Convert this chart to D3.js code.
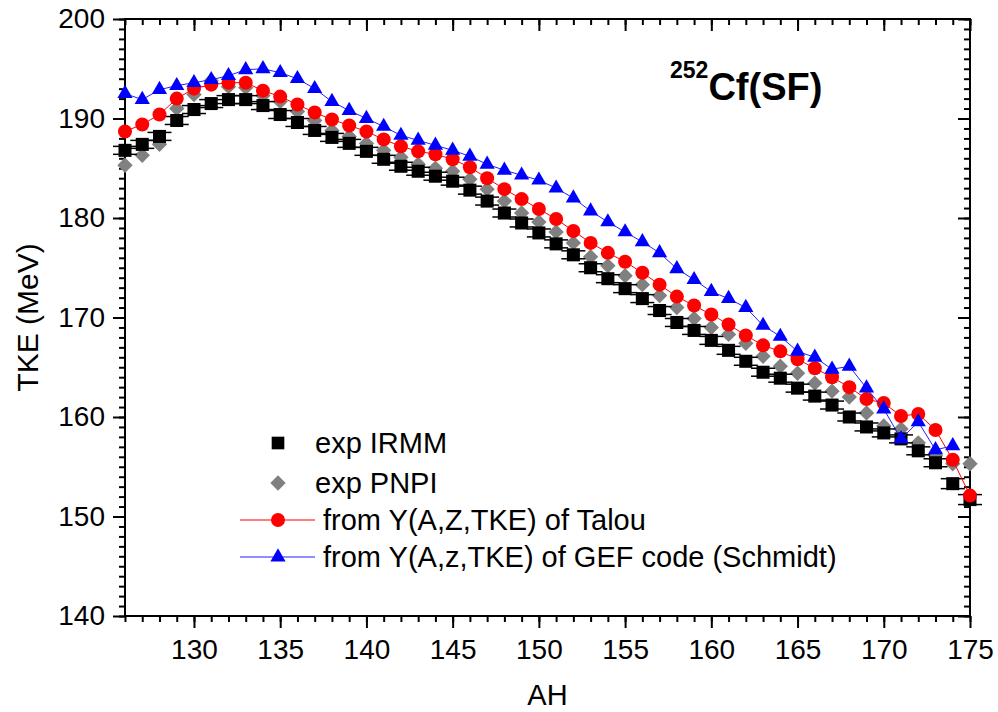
<!DOCTYPE html>
<html>
<head>
<meta charset="utf-8">
<script src="https://cdn.jsdelivr.net/npm/d3@7"></script>
<style>
  html, body { margin: 0; padding: 0; background: #fff; }
  svg { display: block; }
  text { font-family: "Liberation Sans", Arial, sans-serif; fill: #000; }
</style>
</head>
<body>
<svg id="chart" width="998" height="712"></svg>
<script>
// Fragment mass numbers (heavy fragment)
const massA = d3.range(126, 176);

// exp IRMM: TKE (MeV) and its uncertainty
const irmmTKE = [186.8, 187.4, 188.2, 189.8, 190.9, 191.5, 191.9, 191.9, 191.3, 190.4,
                 189.6, 188.8, 188.1, 187.5, 186.7, 185.9, 185.2, 184.7, 184.2, 183.7,
                 182.8, 181.7, 180.5, 179.5, 178.5, 177.4, 176.3, 175.0, 173.9, 172.9,
                 171.9, 170.7, 169.5, 168.7, 167.7, 166.7, 165.6, 164.5, 163.9, 162.9,
                 162.1, 161.2, 160.0, 159.0, 158.4, 157.8, 156.6, 155.4, 153.3, 151.7];
const irmmErr = [0.4, 0.4, 0.4, 0.4, 0.4, 0.4, 0.4, 0.4, 0.4, 0.4,
                 0.4, 0.4, 0.4, 0.4, 0.4, 0.4, 0.4, 0.4, 0.4, 0.4,
                 0.4, 0.4, 0.4, 0.4, 0.4, 0.4, 0.4, 0.4, 0.4, 0.4,
                 0.4, 0.4, 0.4, 0.4, 0.4, 0.4, 0.4, 0.4, 0.4, 0.4,
                 0.4, 0.4, 0.4, 0.4, 0.4, 0.4, 0.4, 0.4, 0.5, 0.5];

// exp PNPI
const pnpiTKE = [185.3, 186.3, 187.4, 191.0, 192.4, 193.8, 193.2, 193.1, 192.3, 191.7,
                 190.7, 189.8, 188.8, 188.2, 187.5, 186.8, 186.1, 185.4, 185.0, 184.7,
                 183.9, 182.9, 181.7, 180.5, 179.6, 178.6, 177.5, 176.1, 175.2, 174.2,
                 173.3, 172.2, 171.0, 169.9, 169.0, 168.3, 167.4, 166.1, 165.1, 164.4,
                 163.4, 162.6, 162.0, 160.4, 159.1, 158.8, 157.4, 156.1, 155.3, 155.3];

// from Y(A,Z,TKE) of Talou
const talouTKE = [188.7, 189.4, 190.4, 192.0, 193.0, 193.4, 193.6, 193.6, 192.8, 192.2,
                  191.4, 190.6, 189.9, 189.3, 188.7, 187.9, 187.2, 186.7, 186.4, 185.9,
                  185.1, 184.0, 182.9, 181.9, 180.9, 179.9, 178.7, 177.5, 176.5, 175.6,
                  174.5, 173.3, 172.1, 171.2, 170.3, 169.3, 168.2, 167.2, 166.6, 165.8,
                  164.9, 164.0, 163.0, 161.8, 161.4, 160.1, 160.3, 158.7, 155.7, 152.1];

// from Y(A,z,TKE) of GEF code (A = 126 .. 174)
const gefTKE = [192.5, 191.9, 192.9, 193.3, 193.6, 193.9, 194.3, 194.9, 195.0, 194.6,
                194.0, 193.0, 191.7, 190.8, 190.0, 189.2, 188.3, 187.8, 187.3, 186.8,
                186.2, 185.4, 184.8, 184.3, 183.8, 183.0, 182.0, 180.7, 179.6, 178.6,
                177.6, 176.5, 174.9, 173.8, 172.6, 171.9, 171.0, 169.2, 168.1, 166.6,
                166.0, 164.8, 165.1, 162.9, 160.8, 157.8, 159.5, 156.7, 157.1];

const xMajorTicks = [130, 135, 140, 145, 150, 155, 160, 165, 170, 175];
const yMajorTicks = [140, 150, 160, 170, 180, 190, 200];

const legendLabels = ["exp IRMM", "exp PNPI", "from Y(A,Z,TKE) of Talou",
                      "from Y(A,z,TKE) of GEF code (Schmidt)"];

const svg = d3.select("#chart");
svg.append("rect").attr("width", 998).attr("height", 712).attr("fill", "#fff");

const L = 125, R = 970, T = 19, B = 616;
const x = d3.scaleLinear().domain([126, 175]).range([L, R]);
const y = d3.scaleLinear().domain([140, 200]).range([B, T]);

const FONT = "Liberation Sans, Arial, sans-serif";

// ---- axes ----
function styleAxis(g) {
  g.selectAll("path.domain").remove();
  g.selectAll(".tick line").attr("stroke", "#000").attr("stroke-width", 2);
  g.selectAll(".tick text").attr("font-family", FONT).attr("font-size", 28).attr("fill", "#000");
}
const minorX = d3.range(126, 176);
const minorY = d3.range(140, 201);

// bottom (outward ticks, labelled)
svg.append("g").attr("transform", `translate(0,${B})`)
  .call(d3.axisBottom(x).tickValues(minorX).tickSize(6).tickSizeOuter(0).tickFormat(""))
  .call(styleAxis);
svg.append("g").attr("transform", `translate(0,${B})`)
  .call(d3.axisBottom(x).tickValues(xMajorTicks).tickSize(12).tickSizeOuter(0).tickPadding(11).tickFormat(d3.format("d")))
  .call(styleAxis);
// top (inward ticks)
svg.append("g").attr("transform", `translate(0,${T})`)
  .call(d3.axisBottom(x).tickValues(minorX).tickSize(6).tickSizeOuter(0).tickFormat(""))
  .call(styleAxis);
svg.append("g").attr("transform", `translate(0,${T})`)
  .call(d3.axisBottom(x).tickValues(xMajorTicks).tickSize(12).tickSizeOuter(0).tickFormat(""))
  .call(styleAxis);
// left (outward ticks, labelled)
svg.append("g").attr("transform", `translate(${L},0)`)
  .call(d3.axisLeft(y).tickValues(minorY).tickSize(6).tickSizeOuter(0).tickFormat(""))
  .call(styleAxis);
svg.append("g").attr("transform", `translate(${L},0)`)
  .call(d3.axisLeft(y).tickValues(yMajorTicks).tickSize(12).tickSizeOuter(0).tickPadding(8).tickFormat(d3.format("d")))
  .call(styleAxis);
// right (inward ticks)
svg.append("g").attr("transform", `translate(${R},0)`)
  .call(d3.axisLeft(y).tickValues(minorY).tickSize(6).tickSizeOuter(0).tickFormat(""))
  .call(styleAxis);
svg.append("g").attr("transform", `translate(${R},0)`)
  .call(d3.axisLeft(y).tickValues(yMajorTicks).tickSize(12).tickSizeOuter(0).tickFormat(""))
  .call(styleAxis);

// frame
svg.append("rect").attr("x", L).attr("y", T).attr("width", R - L).attr("height", B - T)
  .attr("fill", "none").attr("stroke", "#000").attr("stroke-width", 2);

// axis titles
svg.append("text").attr("x", (L + R) / 2).attr("y", 705).attr("text-anchor", "middle")
  .attr("font-size", 29).text("AH");
svg.append("text").attr("transform", `translate(38,${(T + B) / 2}) rotate(-90)`)
  .attr("text-anchor", "middle").attr("font-size", 30).text("TKE (MeV)");

// reaction label
const title = svg.append("text").attr("x", 670).attr("y", 100).attr("font-weight", "bold");
title.append("tspan").attr("font-size", 23).attr("dy", -22).text("252");
title.append("tspan").attr("font-size", 38).attr("dy", 22).text("Cf(SF)");

// ---- data ----
const plot = svg.append("g");
const sym = (type, size) => d3.symbol().type(type).size(size)();

const pnpi = massA.map((a, i) => ({a, v: pnpiTKE[i]}));
const irmm = massA.map((a, i) => ({a, v: irmmTKE[i], e: irmmErr[i]}));
const talou = massA.map((a, i) => ({a, v: talouTKE[i]}));
const gef = gefTKE.map((v, i) => ({a: massA[i], v}));

// PNPI diamonds
plot.append("g").selectAll("path").data(pnpi).join("path")
  .attr("d", sym(d3.symbolSquare, 118))
  .attr("transform", d => `translate(${x(d.a)},${y(d.v)}) rotate(45)`)
  .attr("fill", "#808080");

// IRMM error bars and squares
const eb = plot.append("g").attr("stroke", "#000").attr("stroke-width", 1.5);
irmm.forEach(d => {
  const cx = x(d.a);
  eb.append("line").attr("x1", cx).attr("x2", cx).attr("y1", y(d.v - d.e)).attr("y2", y(d.v + d.e));
  [d.v - d.e, d.v + d.e].forEach(v => {
    eb.append("line").attr("x1", cx - 12).attr("x2", cx + 12).attr("y1", y(v)).attr("y2", y(v));
  });
});
plot.append("g").selectAll("path").data(irmm).join("path")
  .attr("d", sym(d3.symbolSquare, 170))
  .attr("transform", d => `translate(${x(d.a)},${y(d.v)})`)
  .attr("fill", "#000");

// Talou line + circles
const line = d3.line().x(d => x(d.a)).y(d => y(d.v));
plot.append("path").datum(talou).attr("d", line)
  .attr("fill", "none").attr("stroke", "#ff0000").attr("stroke-width", 1);
plot.append("g").selectAll("circle").data(talou).join("circle")
  .attr("cx", d => x(d.a)).attr("cy", d => y(d.v)).attr("r", 7)
  .attr("fill", "#ff0000");

// GEF line + triangles
plot.append("path").datum(gef).attr("d", line)
  .attr("fill", "none").attr("stroke", "#2020ff").attr("stroke-width", 1);
plot.append("g").selectAll("path").data(gef).join("path")
  .attr("d", sym(d3.symbolTriangle, 100))
  .attr("transform", d => `translate(${x(d.a)},${y(d.v)})`)
  .attr("fill", "#0000ff");

// ---- legend ----
const lg = svg.append("g");
const lgMarkX = 278, rowY = [443, 483, 520, 557];
lg.append("path").attr("d", sym(d3.symbolSquare, 160))
  .attr("transform", `translate(${lgMarkX},${rowY[0]})`).attr("fill", "#000");
lg.append("path").attr("d", sym(d3.symbolSquare, 118))
  .attr("transform", `translate(${lgMarkX},${rowY[1]}) rotate(45)`).attr("fill", "#808080");
lg.append("line").attr("x1", 240).attr("x2", 315).attr("y1", rowY[2]).attr("y2", rowY[2])
  .attr("stroke", "#ff0000").attr("stroke-width", 1);
lg.append("circle").attr("cx", lgMarkX).attr("cy", rowY[2]).attr("r", 7).attr("fill", "#ff0000");
lg.append("line").attr("x1", 240).attr("x2", 315).attr("y1", rowY[3]).attr("y2", rowY[3])
  .attr("stroke", "#6a6aff").attr("stroke-width", 1.5);
lg.append("path").attr("d", sym(d3.symbolTriangle, 100))
  .attr("transform", `translate(${lgMarkX},${rowY[3]})`).attr("fill", "#0000ff");

const textX = [315, 315, 323, 323];
legendLabels.forEach((t, i) => {
  lg.append("text").attr("x", textX[i]).attr("y", rowY[i] + 10)
    .attr("font-size", 29).text(t);
});
</script>
</body>
</html>
